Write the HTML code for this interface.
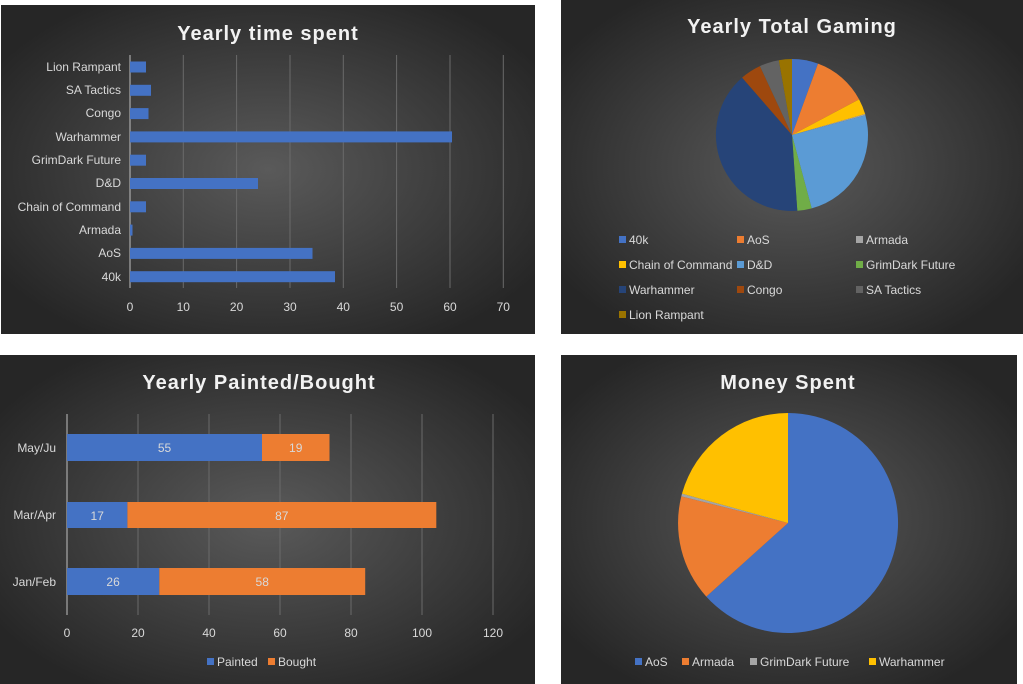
<!DOCTYPE html>
<html><head><meta charset="utf-8"><style>
html,body{margin:0;padding:0;background:#fff;width:1023px;height:684px;overflow:hidden}
svg{display:block;font-family:"Liberation Sans",Arial,sans-serif}
</style></head><body>
<svg width="1023" height="684" viewBox="0 0 1023 684">
<defs>
<radialGradient id="bg" cx="50%" cy="50%" r="60%">
<stop offset="0" stop-color="#5a5a5a"/><stop offset="1" stop-color="#262626"/>
</radialGradient>
</defs>
<rect x="0" y="0" width="1023" height="684" fill="#fff"/>
<rect x="1" y="5" width="534" height="329" fill="url(#bg)"/>
<rect x="561" y="0" width="462" height="334" fill="url(#bg)"/>
<rect x="0" y="355" width="535" height="329" fill="url(#bg)"/>
<rect x="561" y="355" width="456" height="329" fill="url(#bg)"/>

<!-- Chart 1 -->
<text x="268" y="40" fill="#f2f2f2" font-size="20" font-weight="bold" text-anchor="middle" letter-spacing="1">Yearly time spent</text>
<g stroke="#6a6a6a" stroke-width="1">
<line x1="183.3" y1="55" x2="183.3" y2="288"/><line x1="236.6" y1="55" x2="236.6" y2="288"/>
<line x1="290" y1="55" x2="290" y2="288"/><line x1="343.3" y1="55" x2="343.3" y2="288"/>
<line x1="396.6" y1="55" x2="396.6" y2="288"/><line x1="450" y1="55" x2="450" y2="288"/>
<line x1="503.3" y1="55" x2="503.3" y2="288"/>
</g>
<line x1="130" y1="55" x2="130" y2="288" stroke="#bfbfbf"/>
<g fill="#4472C4">
<rect x="130" y="61.5" width="16" height="11"/>
<rect x="130" y="84.8" width="21" height="11"/>
<rect x="130" y="108.1" width="18.5" height="11"/>
<rect x="130" y="131.4" width="322" height="11"/>
<rect x="130" y="154.7" width="16" height="11"/>
<rect x="130" y="178" width="128" height="11"/>
<rect x="130" y="201.3" width="16" height="11"/>
<rect x="130" y="224.6" width="2.5" height="11"/>
<rect x="130" y="247.9" width="182.5" height="11"/>
<rect x="130" y="271.2" width="205" height="11"/>
</g>
<g fill="#d9d9d9" font-size="12" text-anchor="end">
<text x="121" y="71">Lion Rampant</text>
<text x="121" y="94">SA Tactics</text>
<text x="121" y="117">Congo</text>
<text x="121" y="141">Warhammer</text>
<text x="121" y="164">GrimDark Future</text>
<text x="121" y="187">D&amp;D</text>
<text x="121" y="211">Chain of Command</text>
<text x="121" y="234">Armada</text>
<text x="121" y="257">AoS</text>
<text x="121" y="281">40k</text>
</g>
<g fill="#d9d9d9" font-size="12" text-anchor="middle">
<text x="130" y="311">0</text><text x="183.3" y="311">10</text><text x="236.6" y="311">20</text>
<text x="290" y="311">30</text><text x="343.3" y="311">40</text><text x="396.6" y="311">50</text>
<text x="450" y="311">60</text><text x="503.3" y="311">70</text>
</g>

<!-- Chart 2 -->
<text x="792" y="33" fill="#f2f2f2" font-size="20" font-weight="bold" text-anchor="middle" letter-spacing="1">Yearly Total Gaming</text>
<g stroke="none">
<path d="M792,135 L792,59 A76,76 0 0 1 818,63.6 Z" fill="#4472C4"/>
<path d="M792,135 L818,63.6 A76,76 0 0 1 859.1,99.4 Z" fill="#ED7D31"/>
<path d="M792,135 L859.1,99.4 A76,76 0 0 1 865.1,114 Z" fill="#FFC000"/>
<path d="M792,135 L865.1,114 A76,76 0 0 1 865.4,115.3 Z" fill="#A5A5A5"/>
<path d="M792,135 L865.4,115.3 A76,76 0 0 1 811.7,208.4 Z" fill="#5B9BD5"/>
<path d="M792,135 L811.7,208.4 A76,76 0 0 1 797.3,210.8 Z" fill="#70AD47"/>
<path d="M792,135 L797.3,210.8 A76,76 0 0 1 742.1,77.6 Z" fill="#264478"/>
<path d="M792,135 L742.1,77.6 A76,76 0 0 1 759.9,66.1 Z" fill="#9E480E"/>
<path d="M792,135 L759.9,66.1 A76,76 0 0 1 778.8,60.2 Z" fill="#636363"/>
<path d="M792,135 L778.8,60.2 A76,76 0 0 1 792,59 Z" fill="#997300"/>
</g>
<g font-size="12" fill="#d9d9d9">
<rect x="619" y="236" width="7" height="7" fill="#4472C4"/><text x="629" y="244">40k</text>
<rect x="737" y="236" width="7" height="7" fill="#ED7D31"/><text x="747" y="244">AoS</text>
<rect x="856" y="236" width="7" height="7" fill="#A5A5A5"/><text x="866" y="244">Armada</text>
<rect x="619" y="261" width="7" height="7" fill="#FFC000"/><text x="629" y="269">Chain of Command</text>
<rect x="737" y="261" width="7" height="7" fill="#5B9BD5"/><text x="747" y="269">D&amp;D</text>
<rect x="856" y="261" width="7" height="7" fill="#70AD47"/><text x="866" y="269">GrimDark Future</text>
<rect x="619" y="286" width="7" height="7" fill="#264478"/><text x="629" y="294">Warhammer</text>
<rect x="737" y="286" width="7" height="7" fill="#9E480E"/><text x="747" y="294">Congo</text>
<rect x="856" y="286" width="7" height="7" fill="#636363"/><text x="866" y="294">SA Tactics</text>
<rect x="619" y="311" width="7" height="7" fill="#997300"/><text x="629" y="319">Lion Rampant</text>
</g>

<!-- Chart 3 -->
<text x="259" y="389" fill="#f2f2f2" font-size="20" font-weight="bold" text-anchor="middle" letter-spacing="1">Yearly Painted/Bought</text>
<g stroke="#6a6a6a">
<line x1="138" y1="414" x2="138" y2="615"/><line x1="209" y1="414" x2="209" y2="615"/>
<line x1="280" y1="414" x2="280" y2="615"/><line x1="351" y1="414" x2="351" y2="615"/>
<line x1="422" y1="414" x2="422" y2="615"/><line x1="493" y1="414" x2="493" y2="615"/>
</g>
<line x1="67" y1="414" x2="67" y2="615" stroke="#bfbfbf"/>
<rect x="67" y="434" width="195" height="27" fill="#4472C4"/>
<rect x="262" y="434" width="67.5" height="27" fill="#ED7D31"/>
<rect x="67" y="502" width="60.4" height="26" fill="#4472C4"/>
<rect x="127.4" y="502" width="308.9" height="26" fill="#ED7D31"/>
<rect x="67" y="568" width="92.3" height="27" fill="#4472C4"/>
<rect x="159.3" y="568" width="205.9" height="27" fill="#ED7D31"/>
<g fill="#d9d9d9" font-size="12" text-anchor="middle">
<text x="164.5" y="452">55</text><text x="295.7" y="452">19</text>
<text x="97.2" y="520">17</text><text x="281.8" y="520">87</text>
<text x="113.1" y="586">26</text><text x="262.2" y="586">58</text>
</g>
<g fill="#d9d9d9" font-size="12" text-anchor="end">
<text x="56" y="452">May/Ju</text><text x="56" y="519">Mar/Apr</text><text x="56" y="586">Jan/Feb</text>
</g>
<g fill="#d9d9d9" font-size="12" text-anchor="middle">
<text x="67" y="637">0</text><text x="138" y="637">20</text><text x="209" y="637">40</text>
<text x="280" y="637">60</text><text x="351" y="637">80</text><text x="422" y="637">100</text><text x="493" y="637">120</text>
</g>
<g font-size="12" fill="#d9d9d9">
<rect x="207" y="658" width="7" height="7" fill="#4472C4"/><text x="217" y="666">Painted</text>
<rect x="268" y="658" width="7" height="7" fill="#ED7D31"/><text x="278" y="666">Bought</text>
</g>

<!-- Chart 4 -->
<text x="788" y="389" fill="#f2f2f2" font-size="20" font-weight="bold" text-anchor="middle" letter-spacing="1">Money Spent</text>
<path d="M788,523 L788,413 A110,110 0 1 1 706.3,596.6 Z" fill="#4472C4"/>
<path d="M788,523 L706.3,596.6 A110,110 0 0 1 681.3,496.4 Z" fill="#ED7D31"/>
<path d="M788,523 L681.3,496.4 A110,110 0 0 1 682,493.6 Z" fill="#A5A5A5"/>
<path d="M788,523 L682,493.6 A110,110 0 0 1 788,413 Z" fill="#FFC000"/>
<g font-size="12" fill="#d9d9d9">
<rect x="635" y="658" width="7" height="7" fill="#4472C4"/><text x="645" y="666">AoS</text>
<rect x="682" y="658" width="7" height="7" fill="#ED7D31"/><text x="692" y="666">Armada</text>
<rect x="750" y="658" width="7" height="7" fill="#A5A5A5"/><text x="760" y="666">GrimDark Future</text>
<rect x="869" y="658" width="7" height="7" fill="#FFC000"/><text x="879" y="666">Warhammer</text>
</g>
</svg>
</body></html>
